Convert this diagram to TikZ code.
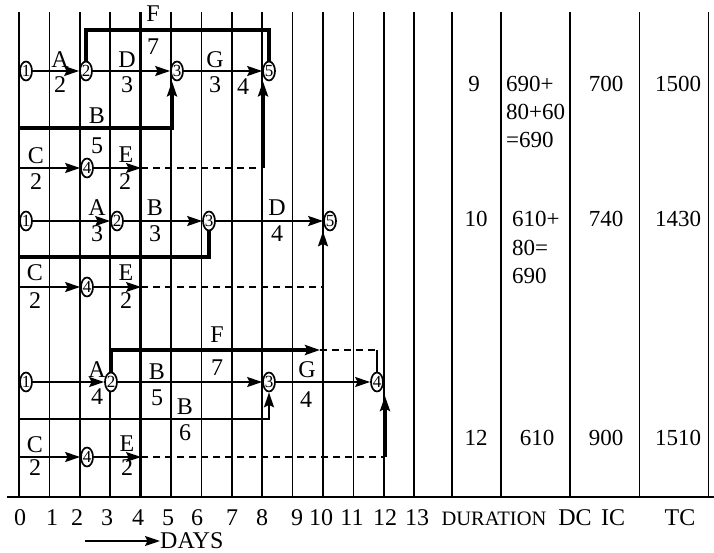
\documentclass[tikz,border=0pt]{standalone}
\usepackage{fontspec}
\setmainfont{Liberation Serif}
\usetikzlibrary{arrows.meta,shapes.geometric}
\begin{document}
\begin{tikzpicture}[x=1pt,y=-1pt,
  grid/.style={line width=1.7pt},
  thickgrid/.style={line width=2.8pt},
  ln/.style={line width=1.7pt},
  arr/.style={line width=1.7pt,-{Stealth[length=15pt,width=10pt,inset=2.5pt]}},
  tk/.style={line width=3.4pt},
  tkarr/.style={line width=3.4pt,-{Stealth[length=15pt,width=10pt,inset=2.5pt]}},
  dsh/.style={line width=1.7pt,dash pattern=on 7pt off 5pt},
  ev/.style={ellipse,draw,line width=1.7pt,fill=white,minimum width=12pt,minimum height=19pt,inner sep=0pt,font=\fontsize{17}{17}\selectfont},
  lb/.style={inner sep=0pt,font=\fontsize{24}{24}\selectfont},
  tb/.style={inner sep=0pt,font=\fontsize{23}{23}\selectfont,anchor=base},
  tbl/.style={inner sep=0pt,font=\fontsize{23}{23}\selectfont,anchor=base west},
  ax/.style={inner sep=0pt,font=\fontsize{24}{24}\selectfont,anchor=base},
]
\useasboundingbox (0,0) rectangle (714,553);
% grid
\foreach \d in {0,...,13}{
  \ifnum\d=4
    \draw[thickgrid] ({19+30.4*\d},12) -- ({19+30.4*\d},497);
  \else
    \draw[grid] ({19+30.4*\d},12) -- ({19+30.4*\d},497);
  \fi
}
\foreach \x in {452,501,570,639.5,708.5}{
  \draw[grid] (\x,12) -- (\x,497);
}
\draw[grid] (7,497) -- (714,497);

% ---------- section 1 ----------
\node[ev] (n1a) at (26,71) {1};
\node[ev] (n2a) at (86,71) {2};
\node[ev] (n3a) at (177,71) {3};
\node[ev] (n5a) at (269,71) {5};
\node[ev] (n4a) at (87,168) {4};
\coordinate (c0a) at (19,168);
\coordinate (e1a) at (141,168);
\coordinate (d1a) at (263,168);
\coordinate (b0a) at (19,128);
\coordinate (fa) at (86,30);
\draw[arr] (n1a) -- (n2a);
\draw[arr] (n2a) -- (n3a);
\draw[arr] (n3a) -- (n5a);
\draw[tk] (n2a.north) |- (fa) -| (n5a.north);
\draw[tkarr] (b0a) -| ([xshift=-5pt]n3a.south);
\draw[arr] (c0a) -- (n4a);
\draw[arr] (n4a) -- (e1a);
\draw[dsh] (e1a) -- (d1a);
\draw[tkarr] (d1a) -- (d1a |- n5a.south);
\node[lb] (la1) at (60,60) {A};
\node[lb] (la1d) at (60,85) {2};
\node[lb] (ld1) at (127,60) {D};
\node[lb] (ld1d) at (127,85) {3};
\node[lb] (lf1) at (153,14) {F};
\node[lb] (lf1d) at (153,47) {7};
\node[lb] (lg1) at (215,60) {G};
\node[lb] (lg1d) at (215,85) {3};
\node[lb] (lg1e) at (243,87) {4};
\node[lb] (lb1) at (97,116) {B};
\node[lb] (lb1d) at (97,146) {5};
\node[lb] (lc1) at (36,156) {C};
\node[lb] (lc1d) at (36,182) {2};
\node[lb] (le1) at (126,155) {E};
\node[lb] (le1d) at (125,182) {2};

% ---------- section 2 ----------
\node[ev] (n1b) at (26,221) {1};
\node[ev] (n2b) at (117,221) {2};
\node[ev] (n3b) at (209,221) {3};
\node[ev] (n5b) at (330,221) {5};
\node[ev] (n4b) at (87,287) {4};
\coordinate (c0b) at (19,287);
\coordinate (e1b) at (141,287);
\coordinate (d1b) at (323,287);
\coordinate (b0b) at (19,257);
\draw[arr] (n1b) -- (n2b);
\draw[arr] (n2b) -- (n3b);
\draw[arr] (n3b) -- (n5b);
\draw[tk] (b0b) -| (n3b.south);
\draw[arr] (c0b) -- (n4b);
\draw[arr] (n4b) -- (e1b);
\draw[dsh] (e1b) -- (d1b);
\draw[arr] (d1b) -- (d1b |- n5b.south);
\node[lb] (la2) at (97,208) {A};
\node[lb] (la2d) at (97,234) {3};
\node[lb] (lb2) at (155,208) {B};
\node[lb] (lb2d) at (155,234) {3};
\node[lb] (ld2) at (277,208) {D};
\node[lb] (ld2d) at (277,234) {4};
\node[lb] (lc2) at (35,273) {C};
\node[lb] (lc2d) at (35,301) {2};
\node[lb] (le2) at (126,273) {E};
\node[lb] (le2d) at (126,301) {2};

% ---------- section 3 ----------
\node[ev] (n1c) at (26,382) {1};
\node[ev] (n2c) at (111,382) {2};
\node[ev] (n3c) at (269,382) {3};
\node[ev] (n4c) at (377,382) {4};
\node[ev] (n4d) at (87,457) {4};
\coordinate (fc1) at (320,350);
\coordinate (fc2) at (377,350);
\coordinate (b0c) at (19,419);
\coordinate (c0c) at (19,457);
\coordinate (e1c) at (141,457);
\coordinate (d1c) at (385,457);
\coordinate (t4c) at (385,396);
\draw[arr] (n1c) -- (n2c);
\draw[arr] (n2c) -- (n3c);
\draw[arr] (n3c) -- (n4c);
\draw[tkarr] (n2c.north) |- (fc1);
\draw[dsh] (fc1) -- (fc2);
\draw[ln] (fc2) -- (n4c.north);
\draw[arr] (b0c) -| (n3c.south);
\draw[arr] (c0c) -- (n4d);
\draw[arr] (n4d) -- (e1c);
\draw[dsh] (e1c) -- (d1c);
\draw[tkarr] (d1c) -- (t4c);
\node[lb] (lf3) at (217,335) {F};
\node[lb] (lf3d) at (217,368) {7};
\node[lb] (la3) at (97,370) {A};
\node[lb] (la3d) at (97,397) {4};
\node[lb] (lb3) at (157,372) {B};
\node[lb] (lb3d) at (157,398) {5};
\node[lb] (lg3) at (307,370) {G};
\node[lb] (lg3d) at (306,400) {4};
\node[lb] (lb4) at (185,407) {B};
\node[lb] (lb4d) at (185,433) {6};
\node[lb] (lc3) at (35,445) {C};
\node[lb] (lc3d) at (35,468) {2};
\node[lb] (le3) at (127,444) {E};
\node[lb] (le3d) at (127,468) {2};

% ---------- table ----------
\node[tb] (t9) at (474,92) {9};
\node[tbl] (t9a) at (506,92) {690+};
\node[tbl] (t9b) at (506,120) {80+60};
\node[tbl] (t9c) at (506,148) {=690};
\node[tb] (t9d) at (606,92) {700};
\node[tb] (t9e) at (678,92) {1500};
\node[tb] (t10) at (476,227) {10};
\node[tbl] (t10a) at (512,227) {610+};
\node[tbl] (t10b) at (512,255) {80=};
\node[tbl] (t10c) at (512,283) {690};
\node[tb] (t10d) at (606,227) {740};
\node[tb] (t10e) at (678,227) {1430};
\node[tb] (t12) at (476,445) {12};
\node[tb] (t12a) at (537,445) {610};
\node[tb] (t12d) at (606,445) {900};
\node[tb] (t12e) at (678,445) {1510};

% ---------- axis ----------
\foreach \v/\x in {0/20,1/52,2/77,3/107,4/138,5/168,6/197,7/232,8/262,9/297,10/321,11/352,12/385,13/417}{
  \node[ax] (ax\v) at (\x,525) {\v};
}
\node[ax,font=\fontsize{20.5}{20.5}\selectfont] (axdur) at (494,525) {DURATION};
\node[ax] (axdc) at (575,525) {DC};
\node[ax] (axic) at (613,525) {IC};
\node[ax] (axtc) at (680,525) {TC};
\node[inner sep=0pt,font=\fontsize{24}{24}\selectfont,anchor=base west] (days) at (160,548) {DAYS};
\coordinate (dstart) at (85,541);
\draw[arr] (dstart) -- (dstart -| days.west);
\end{tikzpicture}
\end{document}
